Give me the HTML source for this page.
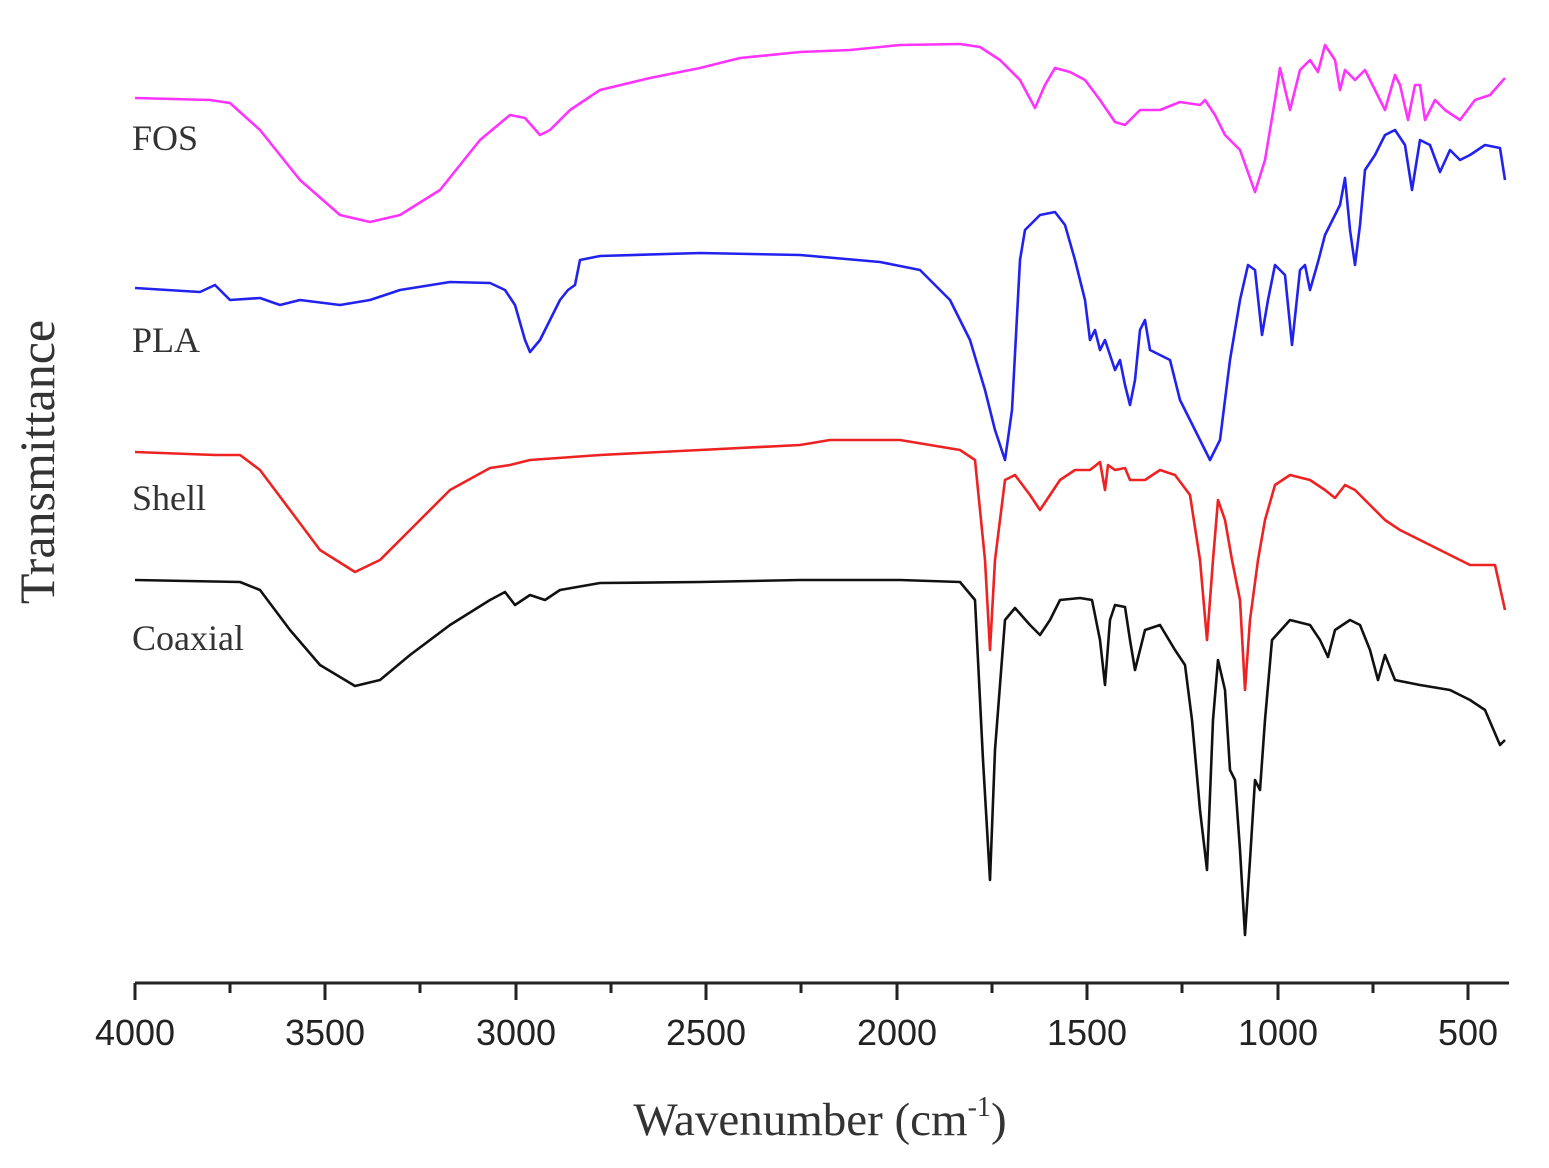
<!DOCTYPE html>
<html><head><style>body{margin:0;background:#fff}svg{display:block}</style></head><body>
<svg width="1549" height="1168" viewBox="0 0 1549 1168" xmlns="http://www.w3.org/2000/svg">
<g fill="none" stroke-width="2.6" stroke-linejoin="round">
<polyline stroke="#ff33ff" points="135,98 210,100 230,103 260,130 300,180 340,215 370,222 400,215 440,190 480,140 510,115 525,118 540,135 550,130 570,110 600,90 650,78 700,68 740,58 800,52 850,50 900,45 960,44 980,47 1000,60 1020,80 1035,108 1045,85 1055,68 1070,72 1085,80 1100,100 1115,122 1125,125 1140,110 1160,110 1180,102 1200,105 1205,100 1215,115 1225,135 1240,150 1255,192 1265,160 1275,100 1280,68 1290,110 1300,70 1310,60 1318,72 1325,45 1335,60 1340,90 1345,70 1355,80 1365,70 1375,90 1385,110 1395,75 1400,85 1408,120 1415,85 1420,85 1425,120 1435,100 1445,110 1460,120 1475,100 1490,95 1505,78"/>
<polyline stroke="#2222ee" points="135,288 200,292 215,285 230,300 260,298 280,305 300,300 340,305 370,300 400,290 450,282 490,283 505,290 515,305 525,340 530,352 540,340 550,320 560,300 568,290 575,285 580,260 600,256 700,253 800,255 880,262 920,270 950,300 970,340 985,390 995,430 1005,460 1012,410 1020,260 1025,230 1040,215 1055,212 1065,225 1075,260 1085,300 1090,340 1095,330 1100,350 1105,340 1110,355 1115,370 1120,360 1125,385 1130,405 1135,380 1140,330 1145,320 1150,350 1160,355 1170,360 1180,400 1195,430 1210,460 1220,440 1230,360 1240,300 1248,265 1255,270 1262,335 1268,300 1275,265 1285,275 1292,345 1300,270 1305,265 1310,290 1318,262 1325,235 1340,205 1345,178 1350,230 1355,265 1360,225 1365,170 1375,155 1385,135 1395,130 1405,145 1412,190 1420,140 1430,145 1440,172 1450,150 1460,160 1470,155 1485,145 1500,148 1505,180"/>
<polyline stroke="#ee2222" points="135,452 215,455 240,455 260,470 290,510 320,550 355,572 380,560 410,530 450,490 490,468 510,465 530,460 600,455 700,450 800,445 830,440 900,440 960,450 975,460 985,560 990,650 995,560 1005,480 1015,475 1030,495 1040,510 1050,495 1060,480 1075,470 1090,470 1100,462 1105,490 1108,465 1115,470 1125,468 1130,480 1145,480 1160,470 1175,475 1190,495 1200,560 1207,640 1213,560 1218,500 1225,520 1232,560 1240,600 1245,690 1250,620 1258,560 1265,520 1275,485 1290,475 1310,480 1325,490 1335,498 1345,485 1355,490 1370,505 1385,520 1400,530 1420,540 1440,550 1470,565 1495,565 1505,610"/>
<polyline stroke="#111" points="135,580 240,582 260,590 290,630 320,665 355,686 380,680 410,655 450,625 490,600 505,592 515,605 530,595 545,600 560,590 600,583 700,582 800,580 900,580 960,582 975,600 983,760 990,880 995,750 1005,620 1015,608 1030,625 1040,635 1050,620 1060,600 1080,598 1092,600 1100,640 1105,685 1110,620 1115,605 1125,607 1130,640 1135,670 1145,630 1160,625 1175,650 1185,665 1192,720 1200,810 1207,870 1213,720 1218,660 1225,690 1230,770 1235,780 1240,850 1245,935 1250,860 1255,780 1260,790 1265,720 1272,640 1290,620 1310,625 1320,640 1328,657 1335,630 1350,620 1360,625 1370,650 1378,680 1385,655 1395,680 1420,685 1450,690 1470,700 1485,710 1500,745 1505,740"/>
</g>
<g stroke="#222" stroke-width="3">
<line x1="135" y1="983" x2="1509" y2="983"/>
<line x1="135" y1="983" x2="135" y2="1000"/><line x1="325" y1="983" x2="325" y2="1000"/><line x1="516" y1="983" x2="516" y2="1000"/><line x1="706" y1="983" x2="706" y2="1000"/><line x1="897" y1="983" x2="897" y2="1000"/><line x1="1087" y1="983" x2="1087" y2="1000"/><line x1="1278" y1="983" x2="1278" y2="1000"/><line x1="1468" y1="983" x2="1468" y2="1000"/>
<line x1="230" y1="983" x2="230" y2="993"/><line x1="420" y1="983" x2="420" y2="993"/><line x1="611" y1="983" x2="611" y2="993"/><line x1="801" y1="983" x2="801" y2="993"/><line x1="992" y1="983" x2="992" y2="993"/><line x1="1182" y1="983" x2="1182" y2="993"/><line x1="1373" y1="983" x2="1373" y2="993"/>
</g>
<g font-family="Liberation Sans, sans-serif" font-size="36" fill="#222" text-anchor="middle">
<text x="135" y="1045">4000</text><text x="325" y="1045">3500</text><text x="516" y="1045">3000</text><text x="706" y="1045">2500</text><text x="897" y="1045">2000</text><text x="1087" y="1045">1500</text><text x="1278" y="1045">1000</text><text x="1468" y="1045">500</text>
</g>
<g font-family="Liberation Serif, serif" fill="#333" font-size="36">
<text x="132" y="150">FOS</text>
<text x="132" y="352">PLA</text>
<text x="132" y="510">Shell</text>
<text x="132" y="650">Coaxial</text>
<text x="820" y="1135" font-size="47" text-anchor="middle">Wavenumber (cm<tspan font-size="28" dy="-19">-1</tspan><tspan dy="19">)</tspan></text>
<text transform="translate(54,462) rotate(-90)" font-size="50" text-anchor="middle">Transmittance</text>
</g>
</svg>
</body></html>
